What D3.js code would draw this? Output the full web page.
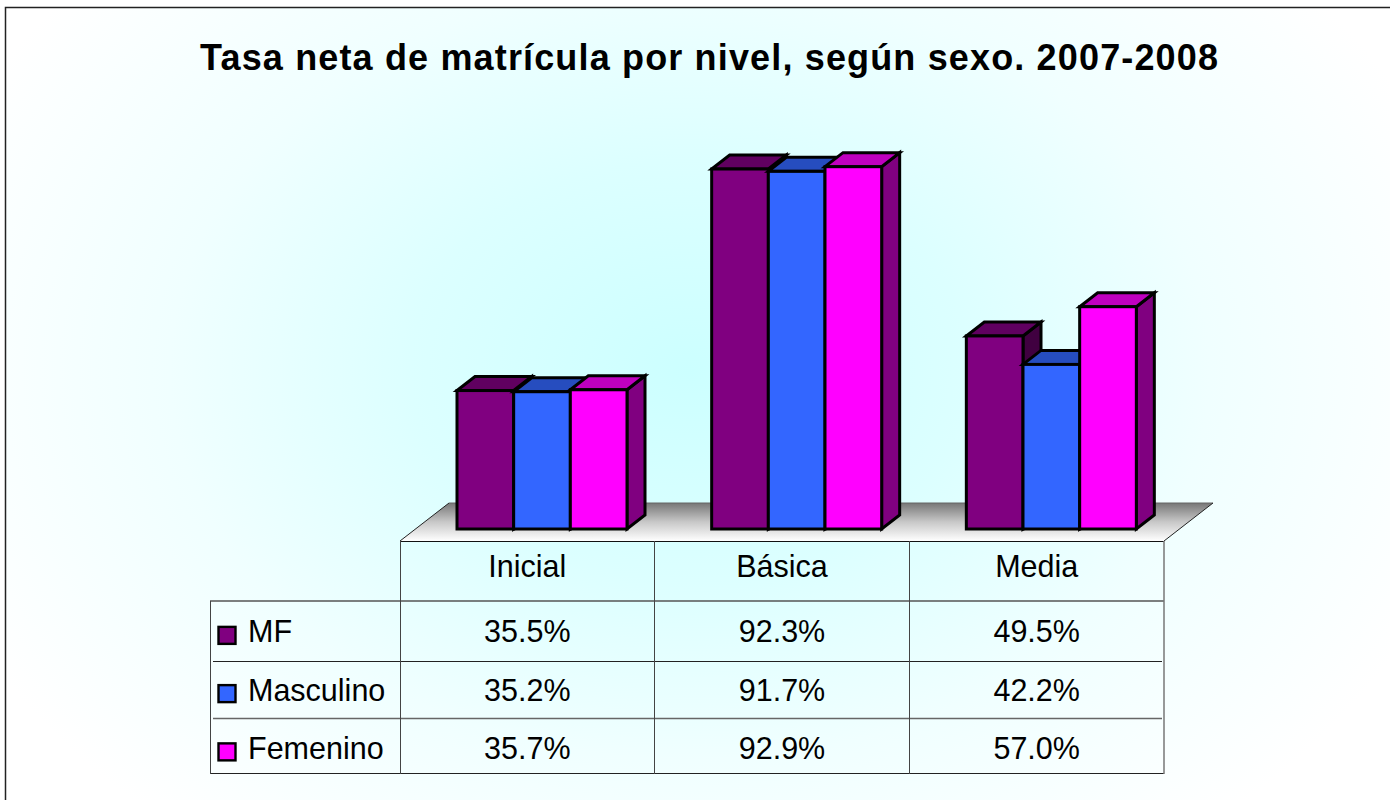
<!DOCTYPE html>
<html><head><meta charset="utf-8">
<script src="https://cdn.jsdelivr.net/npm/d3@7/dist/d3.min.js"></script>
<style>html,body{margin:0;padding:0;background:#fff;overflow:hidden}svg{display:block}text{font-family:"Liberation Sans",Arial,sans-serif;fill:#000}</style>
</head><body><svg id="c" width="1390" height="800"></svg>
<script>
const categories = ["Inicial", "Básica", "Media"];
const seriesNames = ["MF", "Masculino", "Femenino"];
const mf = [35.5, 92.3, 49.5];
const masculino = [35.2, 91.7, 42.2];
const femenino = [35.7, 92.9, 57.0];
const labelsMf = ["35.5%", "92.3%", "49.5%"];
const labelsMasculino = ["35.2%", "91.7%", "42.2%"];
const labelsFemenino = ["35.7%", "92.9%", "57.0%"];
const titleText = "Tasa neta de matrícula por nivel, según sexo. 2007-2008";
const frontColors = ["#800080", "#3366ff", "#ff00ff"];
const topColors = ["#600060", "#264dbf", "#bf00bf"];
const sideColors = ["#400040", "#1a3380", "#800080"];

const seriesValues = [mf, masculino, femenino];
const seriesLabels = [labelsMf, labelsMasculino, labelsFemenino];
const svg = d3.select("#c");
const defs = svg.append("defs");

const bg = defs.append("radialGradient").attr("id","bg").attr("gradientUnits","userSpaceOnUse")
  .attr("cx",690).attr("cy",370).attr("r",800)
  .attr("gradientTransform","translate(690 370) scale(1 0.75) translate(-690 -370)");
[[0,"#ccffff"],[0.35,"#dcffff"],[0.65,"#f0ffff"],[1,"#ffffff"]].forEach(s=>bg.append("stop").attr("offset",s[0]).attr("stop-color",s[1]));
const fl = defs.append("linearGradient").attr("id","floor").attr("x1",0).attr("y1",0).attr("x2",0).attr("y2",1);
[[0,"#777777"],[0.5,"#c8c8c8"],[1,"#ffffff"]].forEach(s=>fl.append("stop").attr("offset",s[0]).attr("stop-color",s[1]));

svg.append("rect").attr("x",5.5).attr("y",7.5).attr("width",1500).attr("height",900)
  .attr("fill","url(#bg)").attr("stroke","#222").attr("stroke-width",1.5);

svg.append("text").attr("x",709).attr("y",70).attr("text-anchor","middle")
  .attr("font-size",36).attr("font-weight","bold").attr("textLength",1018).attr("lengthAdjust","spacing").text(titleText);

const tableLeft = 400, tableRight = 1164, legendLeft = 210;
const x = d3.scaleBand().domain(categories).range([tableLeft, tableRight]);
const xs = d3.scaleBand().domain(seriesNames).range([57, 57 + 170]);
const baseY = 529;
const y = d3.scaleLinear().domain([0, 100]).range([baseY, baseY - 390]);
const rowY = d3.scaleBand().domain(["head", ...seriesNames]).range([541, 774]);
const dx = 18, dy = -14;

const floorFront = 541, floorBack = 503;
svg.append("polygon")
  .attr("points",[[tableLeft,floorFront],[tableLeft+49,floorBack],[tableRight+49,floorBack],[tableRight,floorFront]].join(" "))
  .attr("fill","url(#floor)");
svg.append("path").attr("d",`M${tableLeft},${floorFront}L${tableLeft+49},${floorBack}`).attr("stroke","#222").attr("fill","none");
svg.append("path").attr("d",`M${tableLeft+49},${floorBack}H${tableRight+49}`).attr("stroke","#666").attr("fill","none");
svg.append("path").attr("d",`M${tableRight+49},${floorBack}L${tableRight},${floorFront}`).attr("stroke","#222").attr("fill","none");

categories.forEach((cat,ci)=>{
  const g = svg.append("g").attr("stroke","#000").attr("stroke-width",3).attr("stroke-linejoin","miter");
  seriesNames.forEach((s,si)=>{
    const x0 = x(cat)+xs(s), w = xs.bandwidth(), t = y(seriesValues[si][ci]);
    g.append("polygon").attr("fill",sideColors[si])
      .attr("points",[[x0+w,t],[x0+w+dx,t+dy],[x0+w+dx,baseY+dy],[x0+w,baseY]].join(" "));
    g.append("polygon").attr("fill",topColors[si])
      .attr("points",[[x0,t],[x0+dx,t+dy],[x0+w+dx,t+dy],[x0+w,t]].join(" "));
    g.append("rect").attr("x",x0).attr("y",t).attr("width",w).attr("height",baseY-t).attr("fill",frontColors[si]);
  });
});

// data table
const line=(x1,y1,x2,y2,c,w)=>svg.append("line").attr("x1",x1).attr("y1",y1).attr("x2",x2).attr("y2",y2).attr("stroke",c).attr("stroke-width",w);
line(tableLeft,541.5,tableRight,541.5,"#111",1);
line(legendLeft,601,tableRight,601,"#555",1.5);
line(legendLeft+3,661.5,tableRight-2,661.5,"#222",1);
line(legendLeft+3,718.5,tableRight-2,718.5,"#666",1.5);
line(legendLeft,773.5,tableRight,773.5,"#222",1);
line(legendLeft+0.5,601,legendLeft+0.5,774,"#444",1);
[tableLeft,x("Básica"),x("Media")].forEach(v=>line(Math.floor(v)+0.5,541,Math.floor(v)+0.5,774,"#444",1));
line(tableRight,541,tableRight,774,"#777",1.5);

const fs = 30.5;
categories.forEach(cat=>{
  svg.append("text").attr("x",x(cat)+x.bandwidth()/2).attr("y",rowY("head")+rowY.bandwidth()/2+7)
    .attr("text-anchor","middle").attr("font-size",fs).text(cat);
});
seriesNames.forEach((s,si)=>{
  const cy = rowY(s)+rowY.bandwidth()/2;
  svg.append("rect").attr("x",218.5).attr("y",cy-1.5).attr("width",17).attr("height",17)
    .attr("fill",frontColors[si]).attr("stroke","#000").attr("stroke-width",2.4);
  svg.append("text").attr("x",248).attr("y",cy+14).attr("font-size",fs).text(s);
  categories.forEach((cat,ci)=>{
    svg.append("text").attr("x",x(cat)+x.bandwidth()/2).attr("y",cy+14)
      .attr("text-anchor","middle").attr("font-size",fs).text(seriesLabels[si][ci]);
  });
});
</script></body></html>
